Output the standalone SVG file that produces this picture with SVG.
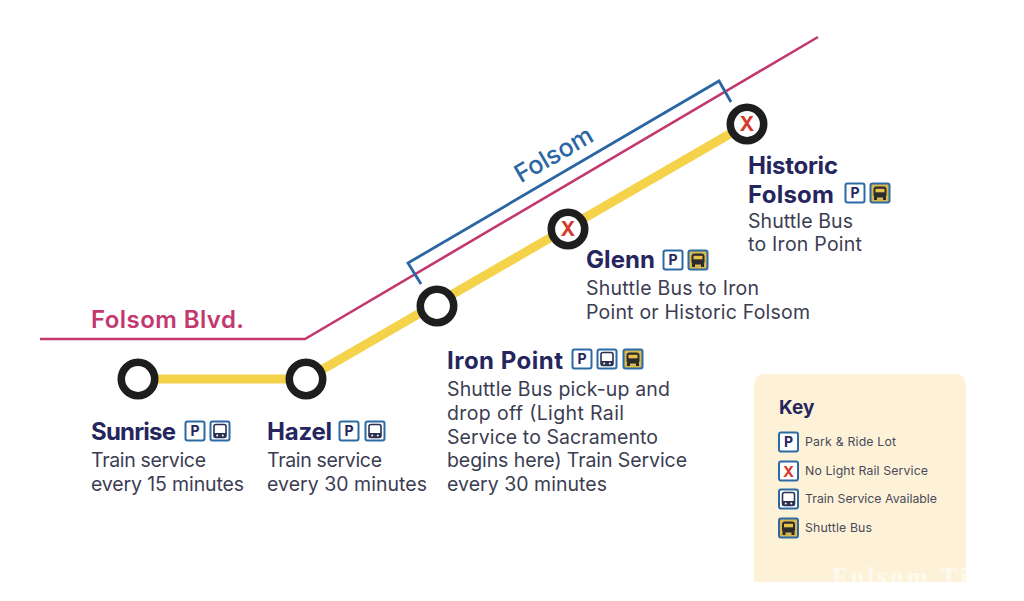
<svg xmlns="http://www.w3.org/2000/svg" width="1024" height="601" viewBox="0 0 1024 601">
<style>
text{font-family:Inter,"Liberation Sans",sans-serif}
.t{font-size:24px;font-weight:700;fill:#25265e}
.b{font-size:19.500px;fill:#3c3d52}
.k{font-size:12.300px;fill:#4a4a58}
.st{fill:#fff;stroke:#1e1e1e;stroke-width:7.600}
.ic{fill:#fff;stroke:#2c6aa5;stroke-width:2}
.xm{font-size:20px;font-weight:700;fill:#d5392c;text-anchor:middle}
</style>
<defs>
<g id="p"><rect class="ic" x="-9.500" y="-9.500" width="19" height="19" rx="2"/><text x="0" y="5.200" text-anchor="middle" style="font-size:14px;font-weight:700;fill:#25265e">P</text></g>
<g id="tr"><rect class="ic" x="-9.500" y="-9.500" width="19" height="19" rx="2"/><rect x="-6" y="-6.500" width="12" height="13" rx="2" fill="none" stroke="#2b3050" stroke-width="1.600"/><path d="M-6 2H6V6.500H-6Z" fill="#2b3050"/><circle cx="-2.800" cy="4.400" r="1" fill="#fff"/><circle cx="2.800" cy="4.400" r="1" fill="#fff"/></g>
<g id="bu"><rect x="-9.500" y="-9.500" width="19" height="19" rx="2" fill="#d9b94e" stroke="#2c6aa5" stroke-width="2"/><rect x="-6.500" y="-6.500" width="13" height="11" rx="3" fill="#2b2b2b"/><rect x="-4.500" y="-4.200" width="9" height="3.500" fill="#e8c24a"/><rect x="-6" y="4" width="3" height="3" fill="#2b2b2b"/><rect x="3" y="4" width="3" height="3" fill="#2b2b2b"/></g>
<g id="x"><rect class="ic" x="-9.500" y="-9.500" width="19" height="19" rx="2"/><text x="0" y="5.500" text-anchor="middle" style="font-size:15px;font-weight:700;fill:#d5392c">X</text></g>
</defs>
<rect width="1024" height="601" fill="#fff"/>
<g id="connectors">
<path d="M40 339H305L818 37" stroke="#c2386f" stroke-width="2.600" fill="none"/>
<path d="M421 284L408 263L719 81L731 102" stroke="#2a66a3" stroke-width="2.800" fill="none"/>
<path d="M138 379H306L747 124" stroke="#f4d24a" stroke-width="9" fill="none"/>
</g>
<g id="line-labels">
<text x="91" y="328" style="font-size:24px;font-weight:600;fill:#c2386f" textLength="153">Folsom Blvd.</text>
<text transform="translate(558 162) rotate(-30)" text-anchor="middle" style="font-size:25px;font-weight:500;fill:#2a66a3">Folsom</text>
</g>
<g id="sunrise"><circle class="st" cx="138" cy="379" r="16.700"/>
<text class="t" x="91" y="440" textLength="85">Sunrise</text><use href="#p" x="195" y="431"/><use href="#tr" x="220" y="431"/>
<text class="b" x="91" y="467" textLength="115">Train service</text><text class="b" x="91" y="491" textLength="153">every 15 minutes</text></g>
<g id="hazel"><circle class="st" cx="306" cy="379" r="16.700"/>
<text class="t" x="267" y="440" textLength="65">Hazel</text><use href="#p" x="349" y="431"/><use href="#tr" x="375" y="431"/>
<text class="b" x="267" y="467" textLength="115">Train service</text><text class="b" x="267" y="491" textLength="160">every 30 minutes</text></g>
<g id="iron-point"><circle class="st" cx="437" cy="306" r="16.700"/>
<text class="t" x="447" y="369" textLength="116">Iron Point</text><use href="#p" x="582" y="359"/><use href="#tr" x="607" y="359"/><use href="#bu" x="633" y="359"/>
<text class="b" x="447" y="396" textLength="223">Shuttle Bus pick-up and</text><text class="b" x="447" y="420" textLength="177">drop off (Light Rail</text><text class="b" x="447" y="444" textLength="211">Service to Sacramento</text><text class="b" x="447" y="467" textLength="240">begins here) Train Service</text><text class="b" x="447" y="491" textLength="160">every 30 minutes</text></g>
<g id="glenn"><circle class="st" cx="568" cy="229" r="16.700"/>
<text class="xm" x="568" y="236">X</text>
<text class="t" x="586" y="268" textLength="69">Glenn</text><use href="#p" x="673" y="260"/><use href="#bu" x="698" y="260"/>
<text class="b" x="586" y="295" textLength="173">Shuttle Bus to Iron</text><text class="b" x="586" y="319" textLength="224">Point or Historic Folsom</text></g>
<g id="historic-folsom"><circle class="st" cx="747" cy="124" r="16.700"/>
<text class="xm" x="747" y="131">X</text>
<text class="t" x="748" y="174" textLength="90">Historic</text><text class="t" x="748" y="203" textLength="86">Folsom</text><use href="#p" x="855" y="193"/><use href="#bu" x="880" y="193"/>
<text class="b" x="748" y="228" textLength="105">Shuttle Bus</text><text class="b" x="748" y="251" textLength="114">to Iron Point</text></g>
<g id="key">
<path d="M754 582V384a10 10 0 0 1 10-10H956a10 10 0 0 1 10 10V582Z" fill="#fdf2d8"/>
<text x="779" y="414" style="font-size:19px;font-weight:700;fill:#25265e">Key</text>
<use href="#p" x="788.500" y="442"/><text class="k" x="805" y="446" textLength="91">Park &amp; Ride Lot</text>
<use href="#x" x="788.500" y="471"/><text class="k" x="805" y="475" textLength="123">No Light Rail Service</text>
<use href="#tr" x="788.500" y="499"/><text class="k" x="805" y="503" textLength="132">Train Service Available</text>
<use href="#bu" x="788.500" y="528"/><text class="k" x="805" y="532" textLength="67">Shuttle Bus</text>
<text x="832" y="585" textLength="135" style="font-family:'Liberation Serif',serif;font-size:26px;font-weight:700;fill:#fff;opacity:.6">Folsom Ti</text>
</g>
</svg>
